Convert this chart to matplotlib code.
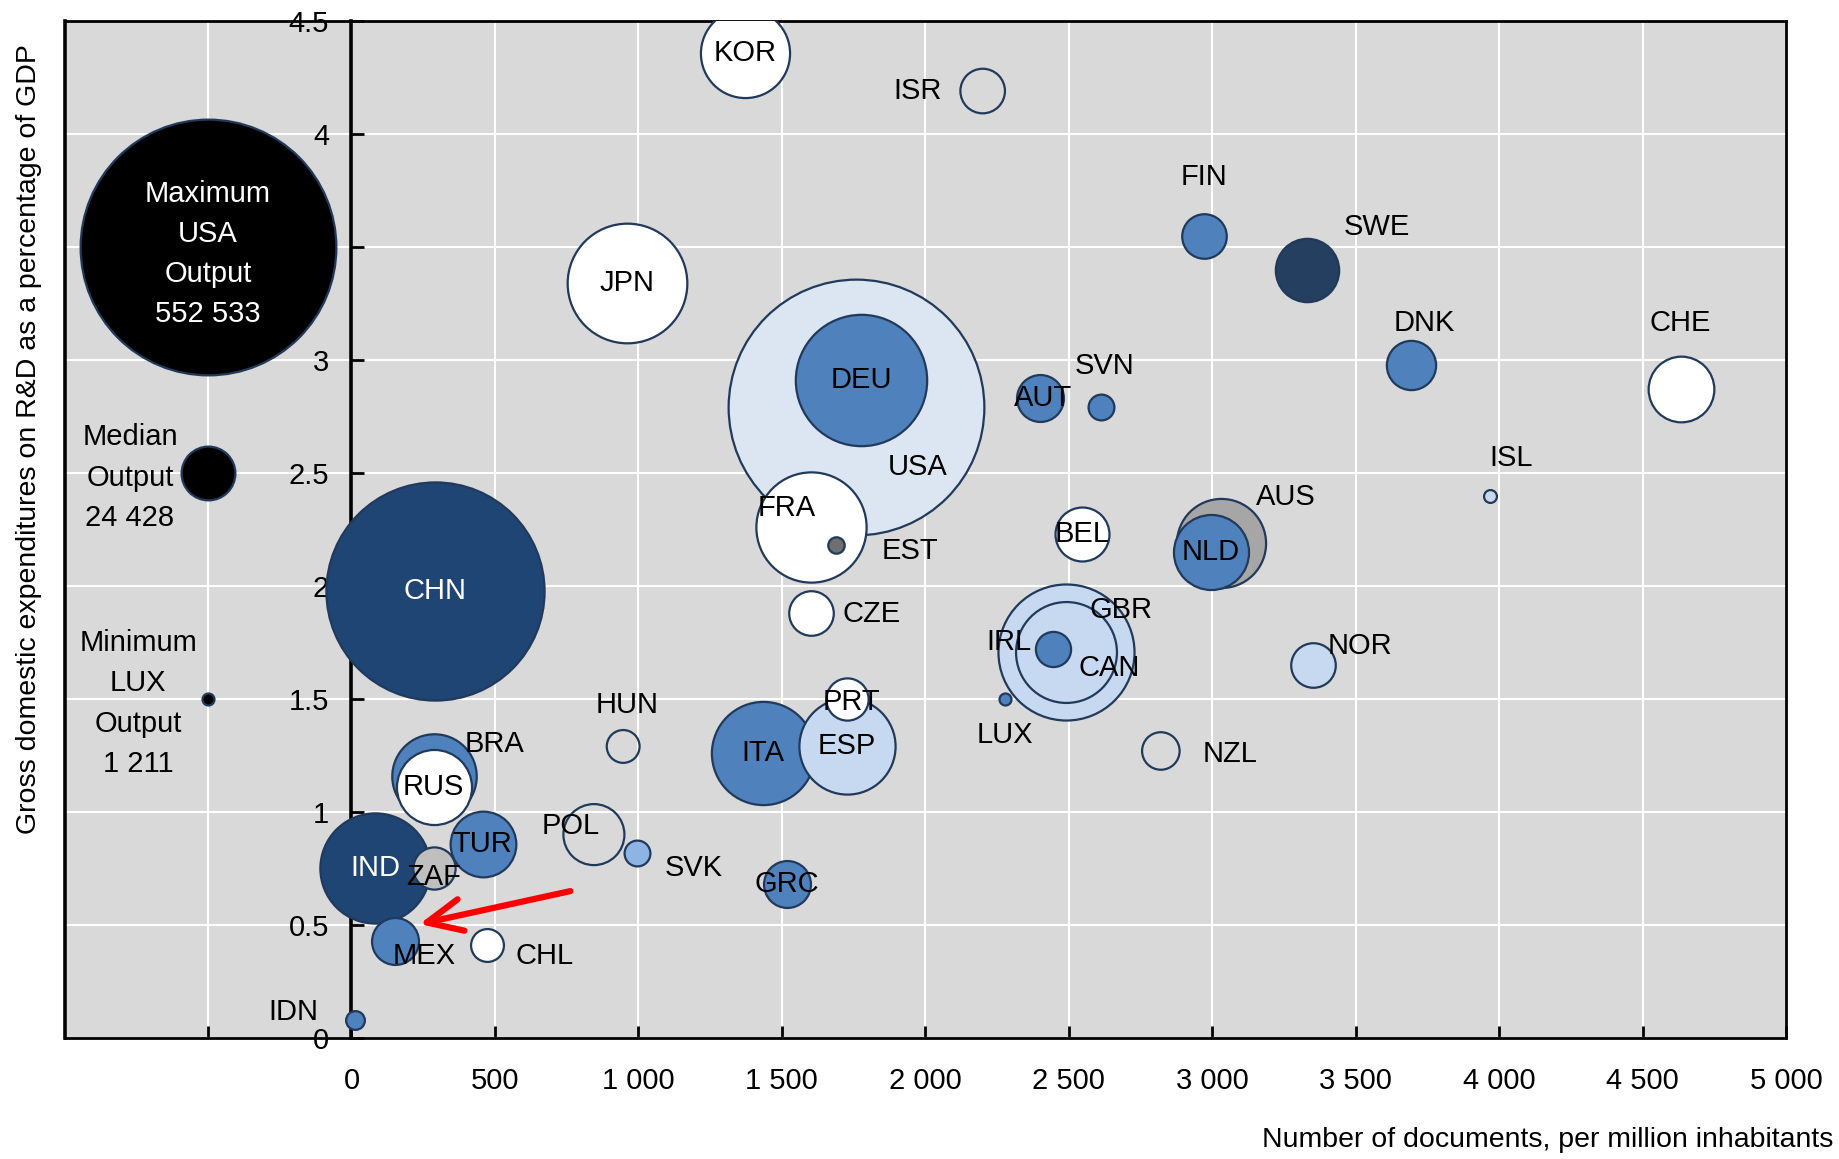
import matplotlib
matplotlib.use("Agg")
import matplotlib.pyplot as plt
import numpy as np

plt.rcParams["font.family"] = ["Liberation Sans Narrow", "Liberation Sans", "DejaVu Sans"]

# --- data ------------------------------------------------------------------
countries = ["KOR", "ISR", "FIN", "SWE", "JPN", "DEU", "USA", "AUT", "SVN", "DNK",
             "CHE", "ISL", "AUS", "NLD", "BEL", "FRA", "EST", "CHN", "CZE", "GBR",
             "CAN", "IRL", "LUX", "NOR", "NZL", "HUN", "PRT", "ESP", "ITA", "BRA",
             "RUS", "POL", "SVK", "TUR", "IND", "ZAF", "GRC", "MEX", "CHL", "IDN"]
docs_per_million = [1372, 2200, 2972, 3331, 959, 1776, 1759, 2400, 2612, 3694,
                    4633, 3968, 3029, 2996, 2547, 1600, 1690, 290, 1600, 2490,
                    2490, 2445, 2278, 3351, 2821, 947, 1727, 1727, 1433, 286,
                    286, 845, 996, 457, 82, 286, 1519, 151, 474, 12]
gerd_pct_gdp = [4.36, 4.19, 3.55, 3.40, 3.34, 2.91, 2.79, 2.83, 2.79, 2.98,
                2.87, 2.40, 2.19, 2.15, 2.23, 2.26, 2.18, 1.98, 1.88, 1.71,
                1.71, 1.72, 1.50, 1.65, 1.27, 1.29, 1.50, 1.29, 1.26, 1.16,
                1.11, 0.90, 0.82, 0.86, 0.75, 0.75, 0.68, 0.43, 0.41, 0.08]
output_docs = [67150, 16790, 16790, 33900, 121000, 145800, 552533, 18600, 5630, 20500,
               36460, 1400, 67150, 47600, 24600, 102700, 2280, 402200, 16790, 156400,
               86000, 10460, 1211, 16790, 11900, 9110, 15070, 78170, 90000, 60270,
               47600, 31440, 5630, 36460, 102700, 15070, 18600, 18600, 9110, 2975]

legend_titles = ["Maximum\nUSA\nOutput\n552 533", "Median\nOutput\n24 428", "Minimum\nLUX\nOutput\n1 211"]
legend_outputs = [552533, 24428, 1211]
legend_gerd = [3.5, 2.5, 1.5]

x_ticks = list(range(-500, 5001, 500))
y_ticks = [0, 0.5, 1, 1.5, 2, 2.5, 3, 3.5, 4, 4.5]

# --- styles ------------------------------------------------------------------
NAVY = "#1F4574"
MID = "#4F81BD"
LIGHT = "#C6D9F1"
fills = {
    "CHN": NAVY, "IND": NAVY, "SWE": "#243F60",
    "FIN": MID, "DEU": MID, "AUT": MID, "SVN": MID, "DNK": MID, "NLD": MID,
    "IRL": MID, "LUX": MID, "ITA": MID, "BRA": MID, "TUR": MID, "GRC": MID,
    "MEX": MID, "IDN": MID, "SVK": "#8DB4E2",
    "USA": "#DCE6F2", "GBR": LIGHT, "CAN": LIGHT, "ESP": LIGHT, "NOR": LIGHT, "ISL": LIGHT,
    "AUS": "#A6A6A6", "ZAF": "#BFBFBF", "EST": "#6F6F6F",
    "ISR": "none", "HUN": "none", "POL": "none", "NZL": "none",
}
white_text = {"CHN", "IND"}
# label offsets in points relative to bubble centre (missing -> centred)
offsets = {
    "ISR": (-47, 0), "FIN": (0, 42), "SWE": (50, 31), "USA": (44, -43), "AUT": (2, 0),
    "SVN": (3, 30), "DNK": (9, 30), "CHE": (0, 48), "ISL": (15, 27), "AUS": (47, 33),
    "FRA": (-17, 14), "EST": (53, -4), "CZE": (44, -1), "GBR": (40, 30), "CAN": (31, -12),
    "IRL": (-32, 5), "LUX": (0, -26), "NOR": (34, 14), "NZL": (50, -2), "HUN": (3, 30),
    "PRT": (3, -2), "BRA": (44, 23), "POL": (-17, 6), "SVK": (41, -11), "ZAF": (0, -6),
    "MEX": (21, -11), "CHL": (41, -8), "IDN": (-44, 6),
}
SIZE_SCALE = 33900 / 552533  # marker area (pt^2) per document
EDGE = "#213A5C"
FS = 21

fig = plt.figure(figsize=(18.39, 11.59), dpi=100)
ax = fig.add_axes([0.0351, 0.1044, 0.9361, 0.8775])
ax.set_facecolor("#D9D9D9")
ax.set_xlim(-1000, 5000)
ax.set_ylim(0, 4.5)
ax.set_axisbelow(True)
ax.grid(True, color="white", linewidth=1.5)

order = np.argsort(output_docs)[::-1]
for i in order:
    c = countries[i]
    ax.scatter(docs_per_million[i], gerd_pct_gdp[i], s=output_docs[i] * SIZE_SCALE,
               facecolor=fills.get(c, "white"), edgecolor=EDGE, linewidth=1.6, zorder=3)
for i, c in enumerate(countries):
    dx, dy = offsets.get(c, (0, 0))
    ax.annotate(c, (docs_per_million[i], gerd_pct_gdp[i]), xytext=(dx, dy),
                textcoords="offset points", ha="center", va="center", fontsize=FS,
                color="white" if c in white_text else "black", zorder=5)

# size legend on the left
for title, out, g in zip(legend_titles, legend_outputs, legend_gerd):
    ax.scatter(-500, g, s=out * SIZE_SCALE, facecolor="black", edgecolor=EDGE,
               linewidth=1.6, zorder=3)
ax.text(-500, legend_gerd[0] - 0.03, legend_titles[0], color="white", ha="center", va="center",
        fontsize=FS, linespacing=1.55, zorder=5)
ax.text(-772, legend_gerd[1] - 0.02, legend_titles[1], ha="center", va="center",
        fontsize=FS, linespacing=1.55, zorder=5)
ax.text(-743, legend_gerd[2] - 0.02, legend_titles[2], ha="center", va="center",
        fontsize=FS, linespacing=1.55, zorder=5)

# red arrow
ax.annotate("", xy=(237, 0.504), xytext=(763, 0.65),
            arrowprops=dict(arrowstyle="->,head_length=1.2,head_width=0.55",
                            color="#FF0000", lw=4.5, shrinkA=0, shrinkB=0),
            fontsize=FS, zorder=6)

# axes: y axis at x=0, outer frame
for side in ["top", "right", "bottom", "left"]:
    ax.spines[side].set_linewidth(2)
    ax.spines[side].set_color("black")
ax.spines["left"].set_position(("data", 0))
ax.spines["left"].set_linewidth(2.6)
ax.plot([0, 0], [0, 1], transform=ax.transAxes, color="black", lw=2.6, clip_on=False, zorder=6)

ax.set_xticks(x_ticks)
ax.set_xticklabels(["" if v < 0 else f"{v:,}".replace(",", " ") for v in x_ticks])
ax.set_yticks(y_ticks)
ax.set_yticklabels([f"{v:g}" for v in y_ticks])
ax.tick_params(axis="both", direction="in", length=9, width=2, labelsize=FS)
ax.tick_params(axis="x", pad=21)
ax.tick_params(axis="y", pad=16)

fig.text(0.0155, 0.962, "Gross domestic expenditures on R&D as a percentage of GDP",
         rotation=90, ha="center", va="top", fontsize=20.5)
fig.text(0.997, 0.016, "Number of documents, per million inhabitants",
         ha="right", va="center", fontsize=20.5)

fig.savefig("out.png", dpi=100)
